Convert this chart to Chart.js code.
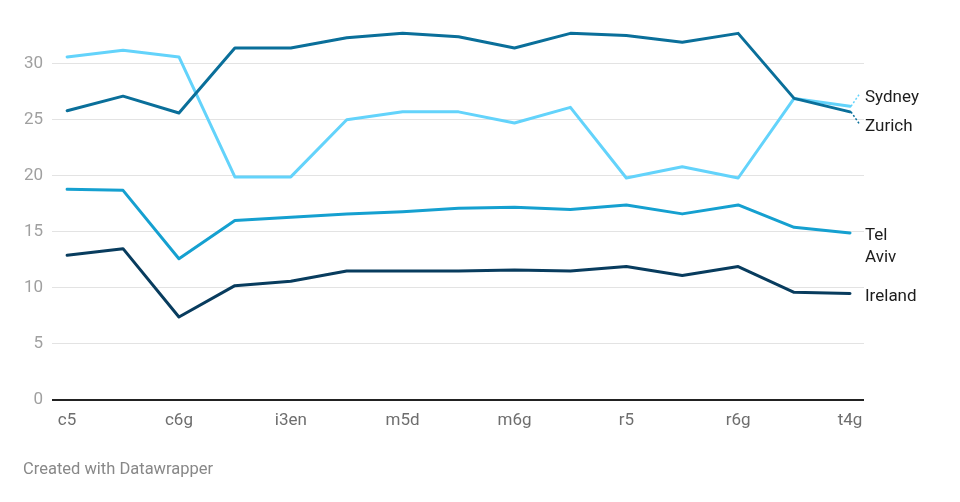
<!DOCTYPE html>
<html>
<head>
<meta charset="utf-8">
<script src="https://cdn.jsdelivr.net/npm/chart.js@4"></script>
<style>
  html, body { margin: 0; padding: 0; background: #fff; }
  #wrap { position: relative; width: 960px; height: 502px; }
  #footer {
    position: absolute; left: 23px; top: 461px;
    font: 16.5px/1 Roboto, sans-serif; color: #888;
  }
</style>
</head>
<body>
<div id="wrap">
  <canvas id="chart"></canvas>
  <div id="footer">Created with Datawrapper</div>
</div>
<script>
// instance types (only every other one is labelled on the axis)
const CATEGORIES = ["c5", "", "c6g", "", "i3en", "", "m5d", "", "m6g", "", "r5", "", "r6g", "", "t4g"];
const Y_TICKS = [0, 5, 10, 15, 20, 25, 30];

const ZURICH = [25.8, 27.1, 25.6, 31.4, 31.4, 32.3, 32.7, 32.4, 31.4, 32.7, 32.5, 31.9, 32.7, 26.9, 25.7];
const SYDNEY = [30.6, 31.2, 30.6, 19.9, 19.9, 25.0, 25.7, 25.7, 24.7, 26.1, 19.8, 20.8, 19.8, 26.9, 26.2];
const TEL_AVIV = [18.8, 18.7, 12.6, 16.0, 16.3, 16.6, 16.8, 17.1, 17.2, 17.0, 17.4, 16.6, 17.4, 15.4, 14.9];
const IRELAND = [12.9, 13.5, 7.4, 10.2, 10.6, 11.5, 11.5, 11.5, 11.6, 11.5, 11.9, 11.1, 11.9, 9.6, 9.5];

const SERIES = [
  { label: "Zurich", data: ZURICH, color: "#0a6f9a" },
  { label: "Sydney", data: SYDNEY, color: "#63d3fb" },
  { label: "Tel Aviv", data: TEL_AVIV, color: "#15a0d0" },
  { label: "Ireland", data: IRELAND, color: "#083c5e" },
];

const FONT = "Roboto, sans-serif";

// labels at the end of each line, pushed apart when they overlap
const endLabels = {
  id: "endLabels",
  afterDatasetsDraw(chart) {
    const ctx = chart.ctx;
    const area = chart.chartArea;
    const lineH = 21.7;
    const gap = 7;
    ctx.save();
    ctx.font = "17px " + FONT;
    const items = chart.data.datasets.map((ds, i) => {
      const meta = chart.getDatasetMeta(i);
      const pt = meta.data[meta.data.length - 1];
      // narrow label column: multi-word names go on separate lines
      const lines = ds.label.split(" ");
      return { ds, px: pt.x, py: pt.y, want: pt.y + 3, y: pt.y + 3, lines };
    });
    items.sort((a, b) => a.want - b.want);
    for (let iter = 0; iter < 30; iter++) {
      for (let i = 1; i < items.length; i++) {
        const a = items[i - 1], b = items[i];
        const need = a.lines.length * lineH + gap;
        const d = b.y - a.y;
        if (d < need) {
          const push = (need - d) / 2;
          a.y -= push;
          b.y += push;
        }
      }
    }
    items.forEach((it) => {
      if (Math.abs(it.y - it.want) > 1) {
        ctx.strokeStyle = it.ds.borderColor;
        ctx.lineWidth = 1.5;
        ctx.setLineDash([2, 2]);
        ctx.beginPath();
        ctx.moveTo(it.px + 1, it.py);
        ctx.lineTo(it.px + 9, it.y - 3);
        ctx.stroke();
        ctx.setLineDash([]);
      }
      ctx.fillStyle = "#1d1d1d";
      ctx.textAlign = "left";
      ctx.textBaseline = "middle";
      it.lines.forEach((ln, k) => {
        ctx.fillText(ln, area.right + 1, it.y + k * lineH);
      });
    });
    ctx.restore();
  },
};

new Chart(document.getElementById("chart"), {
  type: "line",
  data: {
    datasets: SERIES.map((s) => ({
      label: s.label,
      data: s.data.map((v, i) => ({ x: i, y: v })),
      borderColor: s.color,
      backgroundColor: s.color,
      borderWidth: 3,
      pointRadius: 0,
      tension: 0,
      borderCapStyle: "round",
      borderJoinStyle: "round",
      fill: false,
    })),
  },
  options: {
    responsive: true,
    maintainAspectRatio: false,
    animation: false,
    layout: { padding: { top: 30, right: 96, bottom: 62, left: 0 } },
    scales: {
      x: {
        type: "linear",
        min: -0.27,
        max: 14.25,
        afterBuildTicks: (scale) => {
          scale.ticks = CATEGORIES.map((c, i) => ({ value: i })).filter((t) => CATEGORIES[t.value] !== "");
        },
        afterFit: (scale) => { scale.height = 40; },
        grid: { display: false, drawTicks: false },
        border: { display: false },
        ticks: {
          autoSkip: false,
          maxRotation: 0,
          padding: 11,
          color: "#6e6e6e",
          font: { family: FONT, size: 17 },
          callback: (v) => CATEGORIES[v],
        },
      },
      y: {
        min: 0,
        max: 33,
        afterBuildTicks: (scale) => {
          scale.ticks = Y_TICKS.map((v) => ({ value: v }));
        },
        afterFit: (scale) => { scale.width = 52; },
        grid: {
          drawTicks: false,
          color: (c) => (c.tick && c.tick.value === 0 ? "#222" : "#e3e3e3"),
          lineWidth: (c) => (c.tick && c.tick.value === 0 ? 2 : 1),
        },
        border: { display: false },
        ticks: {
          padding: 9,
          color: "#a0a0a0",
          font: { family: FONT, size: 17 },
        },
      },
    },
    plugins: {
      legend: { display: false },
      tooltip: { enabled: false },
    },
  },
  plugins: [endLabels],
});
</script>
</body>
</html>
